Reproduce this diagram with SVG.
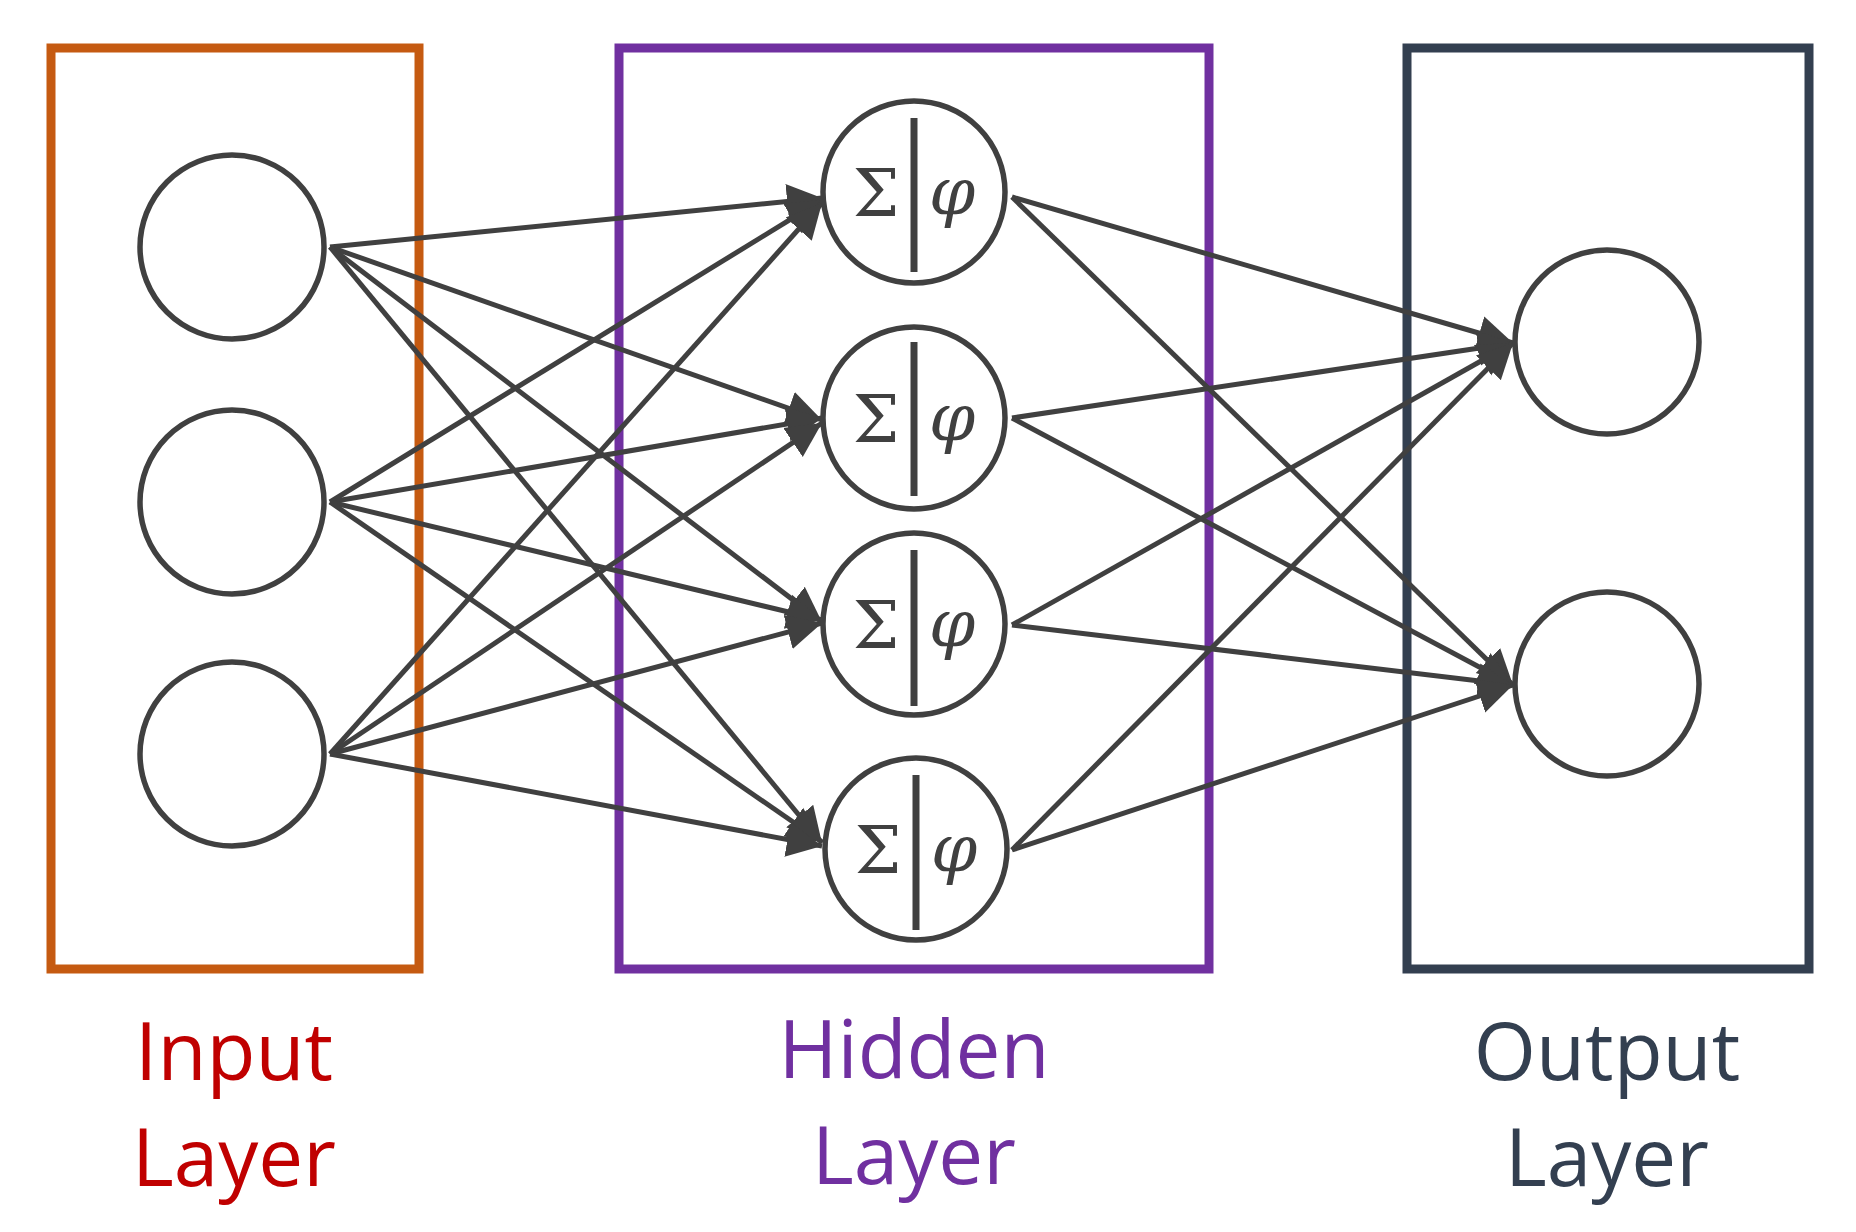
<svg xmlns="http://www.w3.org/2000/svg" width="1856" height="1232" viewBox="0 0 1856 1232">
<style>
.n{fill:#fff;stroke:#404040;stroke-width:5.5}
.e{stroke:#404040;stroke-width:5;fill:none;marker-end:url(#a)}
.s{font-family:"DejaVu Serif","Liberation Serif",serif;font-size:66px;fill:#404040;text-anchor:middle}
.l{font-family:"Open Sans","Noto Sans",sans-serif;font-size:80px;text-anchor:middle}
.bar{stroke:#404040;stroke-width:7}
</style>
<defs><marker id="a" markerWidth="8" markerHeight="8" refX="7" refY="4" orient="auto" markerUnits="strokeWidth"><path d="M0,0.5 L7,4 L0,7.5 Z" fill="#404040"/></marker></defs>
<rect x="51" y="48" width="368" height="921" fill="none" stroke="#c55a11" stroke-width="9"/>
<rect x="619" y="48" width="590" height="921" fill="none" stroke="#7030a0" stroke-width="9"/>
<rect x="1407" y="48" width="402" height="921" fill="none" stroke="#333f50" stroke-width="9"/>
<g id="edges">
<path class="e" d="M330,247L822,198"/><path class="e" d="M330,247L822,420"/><path class="e" d="M330,247L822,622"/><path class="e" d="M330,247L822,843"/>
<path class="e" d="M330,502L822,200"/><path class="e" d="M330,502L822,418"/><path class="e" d="M330,502L822,620"/><path class="e" d="M330,502L822,842"/>
<path class="e" d="M330,754L822,203"/><path class="e" d="M330,754L822,423"/><path class="e" d="M330,754L822,623"/><path class="e" d="M330,754L822,846"/>
<path class="e" d="M1012,197L1513,343"/><path class="e" d="M1012,197L1513,685"/>
<path class="e" d="M1012,418L1513,343"/><path class="e" d="M1012,418L1513,685"/>
<path class="e" d="M1012,625L1513,343"/><path class="e" d="M1012,625L1513,685"/>
<path class="e" d="M1012,850L1513,343"/><path class="e" d="M1012,850L1513,685"/>
</g>
<g id="in1"><circle class="n" cx="232" cy="247" r="92"/></g>
<g id="in2"><circle class="n" cx="232" cy="502" r="92"/></g>
<g id="in3"><circle class="n" cx="232" cy="754" r="92"/></g>
<g id="h1"><circle class="n" cx="914" cy="192" r="91"/><line class="bar" x1="914" y1="118" x2="914" y2="272"/><text class="s" x="876" y="216">Σ</text><text class="s" x="952" y="214" font-style="italic">φ</text></g>
<g id="h2"><circle class="n" cx="914" cy="418" r="91"/><line class="bar" x1="914" y1="342" x2="914" y2="496"/><text class="s" x="876" y="442">Σ</text><text class="s" x="952" y="440" font-style="italic">φ</text></g>
<g id="h3"><circle class="n" cx="914" cy="624" r="91"/><line class="bar" x1="914" y1="550" x2="914" y2="706"/><text class="s" x="876" y="648">Σ</text><text class="s" x="952" y="646" font-style="italic">φ</text></g>
<g id="h4"><circle class="n" cx="916" cy="849" r="91"/><line class="bar" x1="916" y1="775" x2="916" y2="930"/><text class="s" x="878" y="873">Σ</text><text class="s" x="954" y="871" font-style="italic">φ</text></g>
<g id="o1"><circle class="n" cx="1607" cy="342" r="92"/></g>
<g id="o2"><circle class="n" cx="1607" cy="684" r="92"/></g>
<g id="labels">
<text class="l" x="234" y="1080" fill="#c00000">Input</text><text class="l" x="234" y="1186" fill="#c00000">Layer</text>
<text class="l" x="914" y="1078" fill="#7030a0">Hidden</text><text class="l" x="914" y="1184" fill="#7030a0">Layer</text>
<text class="l" x="1607" y="1080" fill="#333f50">Output</text><text class="l" x="1607" y="1186" fill="#333f50">Layer</text>
</g>
</svg>
